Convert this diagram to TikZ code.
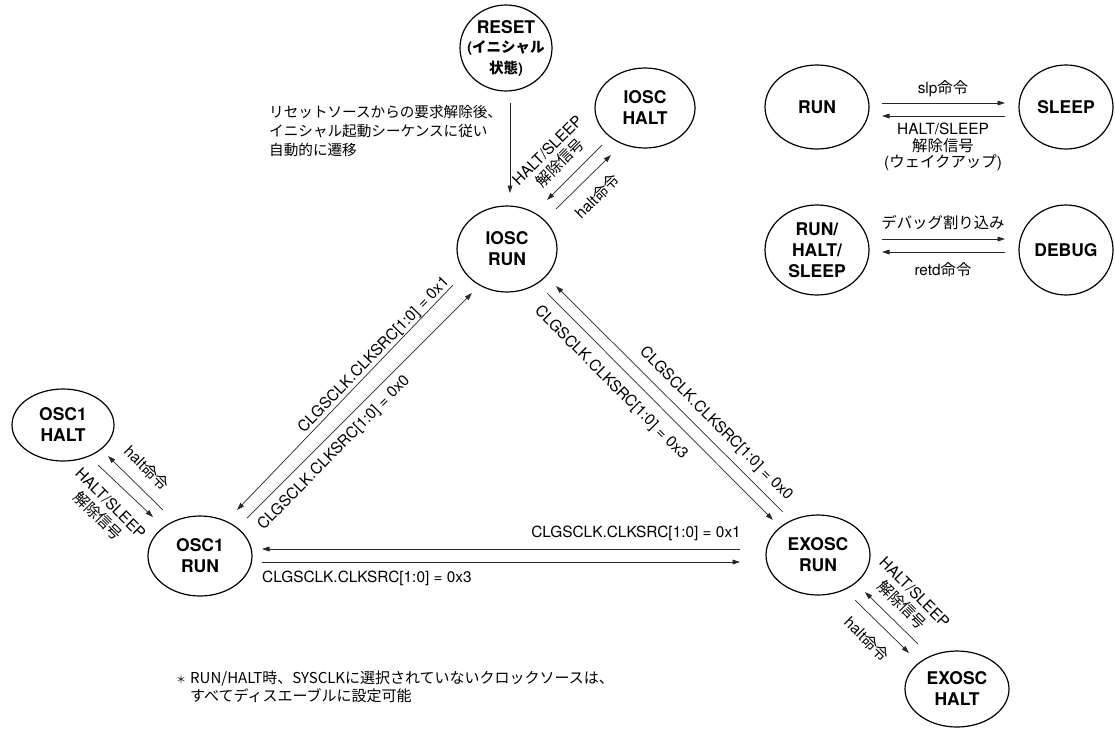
\documentclass[tikz,border=0pt]{standalone}
\usepackage{fontspec}
\setmainfont{TeX Gyre Heros}
\newfontfamily\jp{Noto Sans CJK JP}
\usetikzlibrary{shapes.geometric,arrows.meta}
\begin{document}
\begin{tikzpicture}[x=1pt,y=-1pt,
  st/.style={draw, ellipse, line width=1.2pt, inner sep=0pt, align=center,
    font=\fontsize{17.5}{21}\selectfont\bfseries},
  arr/.style={-{Triangle[length=7.5pt,width=4.8pt]}, line width=0.7pt, draw=black!85},
  lbl/.style={inner sep=0pt, align=center, font=\fontsize{15.4}{18}\selectfont},
]
\useasboundingbox (0,0) rectangle (1115,728);

% states
\node[st, minimum width=92pt, minimum height=86pt, inner xsep=-14pt] (reset) at (506,48)
  {RESET\\[-2pt]{\fontsize{14.5}{18}\selectfont({\jp イニシャル}}\\{\fontsize{14.5}{18}\selectfont{\jp 状態})}};
\node[st, minimum width=100pt, minimum height=80pt] (iohalt) at (645,108) {IOSC\\HALT};
\node[st, minimum width=100pt, minimum height=86pt] (iorun) at (507,249) {IOSC\\RUN};
\node[st, minimum width=102pt, minimum height=72pt] (osc1halt) at (63,425) {OSC1\\HALT};
\node[st, minimum width=104pt, minimum height=80pt] (osc1run) at (200,556) {OSC1\\RUN};
\node[st, minimum width=104pt, minimum height=80pt] (exrun) at (818,555) {EXOSC\\RUN};
\node[st, minimum width=104pt, minimum height=76pt] (exhalt) at (957,689) {EXOSC\\HALT};
\node[st, minimum width=104pt, minimum height=84pt] (run) at (817,107) {RUN};
\node[st, minimum width=94pt, minimum height=84pt] (sleep) at (1066,107) {SLEEP};
\node[st, minimum width=104pt, minimum height=90pt] (rhs) at (817,250) {RUN/\\HALT/\\SLEEP};
\node[st, minimum width=94pt, minimum height=90pt] (debug) at (1066,250) {DEBUG};

% connectors
\draw[arr] ([shift={(4,55)}]reset.center) -- ([shift={(3,-56)}]iorun.center);
\draw[arr] ([shift={(-43,37)}]iohalt.center) -- ([shift={(40,-49)}]iorun.center);
\draw[arr] ([shift={(49,-40)}]iorun.center) -- ([shift={(-34,47)}]iohalt.center);
\draw[arr] ([shift={(-54,36)}]iorun.center) -- ([shift={(37,-46)}]osc1run.center);
\draw[arr] ([shift={(47,-38)}]osc1run.center) -- ([shift={(-35,44)}]iorun.center);
\draw[arr] ([shift={(-35,-43)}]exrun.center) -- ([shift={(49,37)}]iorun.center);
\draw[arr] ([shift={(40,44)}]iorun.center) -- ([shift={(-45,-35)}]exrun.center);
\draw[arr] ([shift={(-78,-6)}]exrun.center) -- ([shift={(62,-7)}]osc1run.center);
\draw[arr] ([shift={(62,6)}]osc1run.center) -- ([shift={(-78,7)}]exrun.center);
\draw[arr] ([shift={(-37,-46)}]osc1run.center) -- ([shift={(45,31)}]osc1halt.center);
\draw[arr] ([shift={(35,40)}]osc1halt.center) -- ([shift={(-47,-39)}]osc1run.center);
\draw[arr] ([shift={(-39,-45)}]exhalt.center) -- ([shift={(47,37)}]exrun.center);
\draw[arr] ([shift={(37,45)}]exrun.center) -- ([shift={(-48,-36)}]exhalt.center);
\draw[arr] ([shift={(65,-4)}]run.center) -- ([shift={(-61,-4)}]sleep.center);
\draw[arr] ([shift={(-61,9)}]sleep.center) -- ([shift={(65,9)}]run.center);
\draw[arr] ([shift={(65,-11)}]rhs.center) -- ([shift={(-61,-11)}]debug.center);
\draw[arr] ([shift={(-61,2)}]debug.center) -- ([shift={(65,2)}]rhs.center);

% labels
\node[lbl, rotate=45] (l1) at (554,157) {HALT/SLEEP\\{\jp 解除信号}};
\node[lbl, rotate=45] (l2) at (597,196) {halt{\jp 命令}};
\node[lbl, rotate=46] (l3) at (374,355) {CLGSCLK.CLKSRC[1:0] = 0x1};
\node[lbl, rotate=45.5] (l4) at (334,453) {CLGSCLK.CLKSRC[1:0] = 0x0};
\node[lbl, rotate=-45] (l5) at (611,383) {CLGSCLK.CLKSRC[1:0] = 0x3};
\node[lbl, rotate=-45] (l6) at (716,424) {CLGSCLK.CLKSRC[1:0] = 0x0};
\node[lbl, anchor=east] (l7) at (741,533) {CLGSCLK.CLKSRC[1:0] = 0x1};
\node[lbl, anchor=west] (l8) at (262,578) {CLGSCLK.CLKSRC[1:0] = 0x3};
\node[lbl, rotate=-45] (l9) at (147,468) {halt{\jp 命令}};
\node[lbl, rotate=-45] (l10) at (104,510) {HALT/SLEEP\\{\jp 解除信号}};
\node[lbl, rotate=-45] (l11) at (908,599) {HALT/SLEEP\\{\jp 解除信号}};
\node[lbl, rotate=-45] (l12) at (867,639) {halt{\jp 命令}};
\node[lbl] (l13) at (943,89) {slp{\jp 命令}};
\node[lbl, font=\fontsize{15.4}{16.5}\selectfont] (l14) at (943,147) {HALT/SLEEP\\{\jp 解除信号}\\({\jp ウェイクアップ})};
\node[lbl] (l15) at (943,223) {{\jp デバッグ割り込み}};
\node[lbl] (l16) at (943,270) {retd{\jp 命令}};
\node[lbl, align=left, anchor=west, font=\fontsize{14.6}{19}\selectfont\jp] (l17) at (269,131)
  {リセットソースからの要求解除後、\\イニシャル起動シーケンスに従い\\自動的に遷移};
\node[anchor=west, inner sep=0pt, font=\fontsize{15}{18}\selectfont\jp] (note) at (176,689)
  {\begin{tabular}{@{}l@{\hspace{4pt}}l@{}}{\fontsize{10}{10}\selectfont ＊}&RUN/HALT時、SYSCLKに選択されていないクロックソースは、\\&すべてディスエーブルに設定可能\end{tabular}};
\end{tikzpicture}
\end{document}
